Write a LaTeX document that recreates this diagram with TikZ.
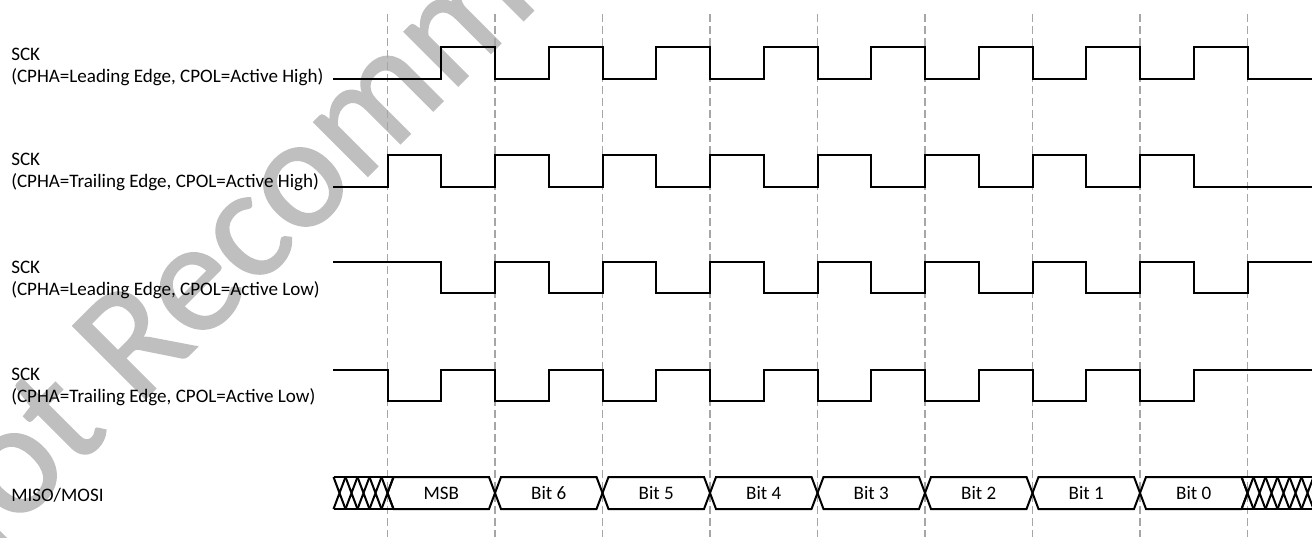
\documentclass[tikz,border=0pt]{standalone}
\usepackage{fontspec}
\setmainfont{Carlito}
\newfontfamily\stampfont[FakeBold=1]{Carlito}

\begin{document}
\begin{tikzpicture}[x=0.75pt,y=-0.75pt,font=\fontsize{14.3}{16}\selectfont,
 sig/.style={black,line width=1.5pt},
 guide/.style={black!35,line width=1pt,dash pattern=on 6pt off 3pt},
 lbl/.style={anchor=west,align=left,inner sep=0pt},
 bit/.style={inner sep=0pt}]
\useasboundingbox (0,0) rectangle (1312,537);
% Watermark sits behind the timing diagram.
\node[font=\stampfont\fontsize{120}{120}\selectfont,text=black!25,rotate=45,
 anchor=base west,inner sep=0pt] (stamp) at (-59,603) {Not Recommended};
% Dashed sampling guides, one per clock period.
\foreach \j in {0,...,8}
 \draw[guide] ({387.5+107.5*\j},14) -- ({387.5+107.5*\j},537);
\node[lbl] (sckA) at (11,67) {SCK\\(CPHA=Leading Edge, CPOL=Active High)};
\node[lbl] (sckB) at (11,172) {SCK\\(CPHA=Trailing Edge, CPOL=Active High)};
\node[lbl] (sckC) at (11,280) {SCK\\(CPHA=Leading Edge, CPOL=Active Low)};
\node[lbl] (sckD) at (11,387) {SCK\\(CPHA=Trailing Edge, CPOL=Active Low)};
\node[lbl] (bus) at (11,495) {MISO/MOSI};
% Clock waveforms: half period 53.75.
\draw[sig] (333,79) \foreach \k in {1,3,...,15}
 {-| ({387.5+53.75*\k},47) -| ({441.25+53.75*\k},79)} -- (1312,79);
\draw[sig] (333,187) \foreach \k in {0,2,...,14}
 {-| ({387.5+53.75*\k},155) -| ({441.25+53.75*\k},187)} -- (1312,187);
\draw[sig] (333,262) \foreach \k in {1,3,...,15}
 {-| ({387.5+53.75*\k},293) -| ({441.25+53.75*\k},262)} -- (1312,262);
\draw[sig] (333,370) \foreach \k in {0,2,...,14}
 {-| ({387.5+53.75*\k},401) -| ({441.25+53.75*\k},370)} -- (1312,370);
% Don't-care regions before and after the byte.
\draw[sig] (333.5,477) -- (393.5,477) (333.5,509) -- (393.5,509);
\foreach \c in {339.5,351.5,...,387.5}
 \draw[sig] ({\c-6},477) -- ({\c+6},509) ({\c-6},509) -- ({\c+6},477);
\draw[sig] (1241.5,477) -- (1312,477) (1241.5,509) -- (1312,509);
\foreach \c in {1247.5,1259.5,...,1307.5}
 \draw[sig] ({\c-6},477) -- ({\c+6},509) ({\c-6},509) -- ({\c+6},477);
% Data bits.
\foreach \j/\txt in {0/MSB,1/Bit 6,2/Bit 5,3/Bit 4,4/Bit 3,5/Bit 2,6/Bit 1,7/Bit 0}
 {\draw[sig] ({387.5+107.5*\j},493) -- ++(6,-16) -- ++(95.5,0) -- ++(6,16)
   -- ++(-6,16) -- ++(-95.5,0) -- cycle;
  \node[bit] (bit\j) at ({441.25+107.5*\j},493) {\txt};}
\end{tikzpicture}
\end{document}
